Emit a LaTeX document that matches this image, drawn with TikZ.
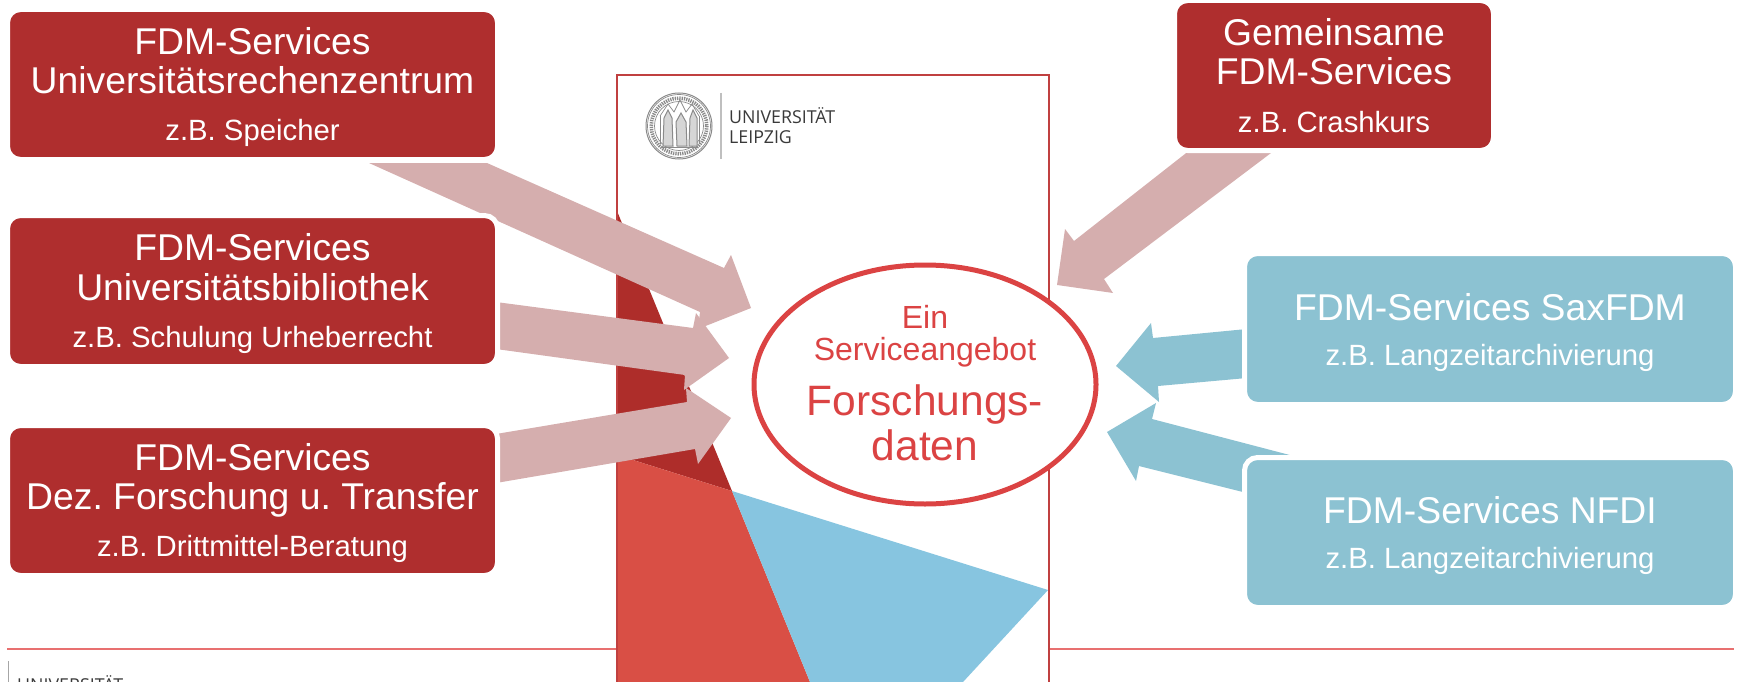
\documentclass[tikz,border=0pt]{standalone}
\usepackage{fontspec}
\setmainfont{Liberation Sans}
\newfontfamily\logofont{Open Sans}
\frenchspacing
\usetikzlibrary{calc,shapes.geometric}
\definecolor{boxred}{HTML}{AF2E2E}
\definecolor{boxteal}{HTML}{8CC2D2}
\definecolor{arrowpink}{HTML}{D5AEAE}
\definecolor{circred}{HTML}{DB4343}
\definecolor{coverline}{HTML}{C04040}
\definecolor{coverdark}{HTML}{AE2D2A}
\definecolor{coverred}{HTML}{D94F45}
\definecolor{coverblue}{HTML}{87C5E0}
\definecolor{ruleline}{HTML}{E87070}
\definecolor{logotext}{HTML}{3A3A3A}
\definecolor{sealgray}{HTML}{8A8A8A}
\tikzset{
  sbox/.style={rounded corners=13pt,draw=white,line width=5pt,inner sep=0pt,outer sep=0pt},
  redbox/.style={sbox,fill=boxred},
  tealbox/.style={sbox,fill=boxteal},
  pinkarrow/.style={fill=arrowpink},
  tealarrow/.style={fill=boxteal},
  logotxt/.style={font=\logofont\fontsize{17.8}{19}\selectfont,text=logotext,anchor=base west,inner sep=0pt},
  sealline/.style={draw=sealgray,line width=0.7pt},
  circtxt/.style={text=circred,inner sep=0pt,anchor=base},
  bigline/.style={text=white,inner sep=0pt,anchor=base,font=\fontsize{37.3}{40}\selectfont},
  smallline/.style={text=white,inner sep=0pt,anchor=base,font=\fontsize{29.3}{33}\selectfont}
}
\begin{document}
\begin{tikzpicture}[x=1pt,y=-1pt]
\useasboundingbox (0,0) rectangle (1739,682);
\clip (0,0) rectangle (1739,682);
% footer rule
\coordinate (ruleL) at (7,649);
\coordinate (ruleR) at (1734,649);
\draw[ruleline,line width=1.5pt] (ruleL) -- (ruleR);
\draw[draw=black!35,line width=1pt] (8,661) -- (8,682);
\node[logotxt] (footlogo) at (17,691) {UNIVERSITÄT};
% cover
\fill[white] (617,75) rectangle (1049,690);
\fill[coverdark] (617,211) -- (732,491) -- (617,455) -- cycle;
\fill[coverred] (617,455) -- (732,491) -- (810,682) -- (617,682) -- cycle;
\fill[coverblue] (732,491) -- (1048,590) -- (963,682) -- (810,682) -- cycle;
\draw[coverline,line width=2pt] (617,690) -- (617,75) -- (1049,75) -- (1049,690);
% seal
\draw[sealline,line width=1pt] (679,126) circle (33);
\draw[sealline] (679,126) circle (31.5);
\draw[sealgray,line width=3.6pt,dash pattern=on 1.3pt off 1pt] (679,126) circle (27.8);
\draw[sealline] (679,126) circle (24.5);
\draw[sealline,line width=1pt,fill=sealgray!35] (663,146) -- (664,118) -- (668,110) -- (672,118) -- (673,146) -- cycle;
\draw[sealline,line width=1pt,fill=sealgray!35] (677,146) -- (676,122) -- (681,113) -- (686,122) -- (687,146) -- cycle;
\draw[sealline,line width=1pt,fill=sealgray!35] (689,146) -- (690,118) -- (693,110) -- (697,118) -- (697,146) -- cycle;
\draw[sealline] (660,116) -- (668,104) -- (674,112) -- (680,100) -- (686,112) -- (692,104) -- (699,116);
\draw[sealline] (660,116) -- (660,144) (699,116) -- (699,144) (662,147) -- (697,147);
\draw[draw=black!25,line width=1.5pt] (721,93) -- (721,159);
\node[logotxt] (logoA) at (729,124) {UNIVERSITÄT};
\node[logotxt] (logoB) at (729,143) {LEIPZIG};
% arrows
\coordinate (a1s) at (369,163);
\coordinate (a1e) at (487,163);
\coordinate (a1tip) at (751,308);
\fill[pinkarrow] (a1s) -- (a1e) -- (724,268) -- (731,255) -- (a1tip) -- (698,329) -- (700,312) -- cycle;
\coordinate (a2s) at (496,302);
\coordinate (a2e) at (496,349);
\coordinate (a2tip) at (729,358);
\fill[pinkarrow] (a2s) -- (693,328) -- (696,313) -- (a2tip) -- (684,390) -- (685,375) -- (a2e) -- cycle;
\coordinate (a3s) at (496,434);
\coordinate (a3e) at (496,483);
\coordinate (a3tip) at (731,418);
\fill[pinkarrow] (a3s) -- (687,402) -- (686,388) -- (a3tip) -- (698,464) -- (695,449) -- (a3e) -- cycle;
\coordinate (a4s) at (1190,150);
\coordinate (a4e) at (1275,150);
\coordinate (a4tip) at (1057,285);
\fill[pinkarrow] (a4s) -- (1074,241) -- (1065,229) -- (a4tip) -- (1113,293) -- (1104,279) -- (a4e) -- cycle;
\coordinate (a5s) at (1247,329);
\coordinate (a5e) at (1247,378);
\coordinate (a5tip) at (1116,366);
\fill[tealarrow] (a5s) -- (1153,338) -- (1151,323) -- (a5tip) -- (1159,402) -- (1158,386) -- (a5e) -- cycle;
\coordinate (a6s) at (1305,459);
\coordinate (a6e) at (1247,493);
\coordinate (a6tip) at (1107,432);
\fill[tealarrow] (a6s) -- (1152,419) -- (1156,403) -- (a6tip) -- (1136,481) -- (1139,466) -- (a6e) -- cycle;
% central ellipse
\node[draw=circred,fill=white,line width=5pt,ellipse,minimum width=342pt,minimum height=239pt,inner sep=0pt,outer sep=0pt] (ell) at (925,384.5) {};
\node[circtxt] (ein) at (925,328) {\fontsize{32}{33}\selectfont Ein};
\node[circtxt] (sa) at (925,360) {\fontsize{32}{33}\selectfont Serviceangebot};
\node[circtxt] (fo) at (925,415) {\fontsize{42.5}{46}\selectfont Forschungs-};
\node[circtxt] (da) at (925,460) {\fontsize{42.5}{46}\selectfont daten};
% boxes
\node[redbox,minimum width=490pt,minimum height=150pt] (b1) at (252.5,84.5) {};
\node[bigline] (b1a) at (252.5,55) {FDM-Services};
\node[bigline] (b1b) at (252.5,94) {Universitätsrechenzentrum};
\node[smallline] (b1c) at (252.5,140) {z.B. Speicher};
\node[redbox,minimum width=490pt,minimum height=151pt] (b2) at (252.5,291) {};
\node[bigline] (b2a) at (252.5,260.5) {FDM-Services};
\node[bigline] (b2b) at (252.5,300) {Universitätsbibliothek};
\node[smallline] (b2c) at (252.5,347) {z.B. Schulung Urheberrecht};
\node[redbox,minimum width=490pt,minimum height=150pt] (b3) at (252.5,500.5) {};
\node[bigline] (b3a) at (252.5,470) {FDM-Services};
\node[bigline] (b3b) at (252.5,509) {Dez. Forschung u. Transfer};
\node[smallline] (b3c) at (252.5,556) {z.B. Drittmittel-Beratung};
\node[redbox,minimum width=319pt,minimum height=150pt] (b4) at (1334,75.5) {};
\node[bigline] (b4a) at (1334,45.5) {Gemeinsame};
\node[bigline] (b4b) at (1334,85) {FDM-Services};
\node[smallline] (b4c) at (1334,132) {z.B. Crashkurs};
\node[tealbox,minimum width=491pt,minimum height=151pt] (b5) at (1490,329) {};
\node[bigline] (b5a) at (1490,320) {FDM-Services SaxFDM};
\node[smallline] (b5b) at (1490,365) {z.B. Langzeitarchivierung};
\node[tealbox,minimum width=491pt,minimum height=150pt] (b6) at (1490,532.5) {};
\node[bigline] (b6a) at (1490,523) {FDM-Services NFDI};
\node[smallline] (b6b) at (1490,568) {z.B. Langzeitarchivierung};
\end{tikzpicture}
\end{document}
